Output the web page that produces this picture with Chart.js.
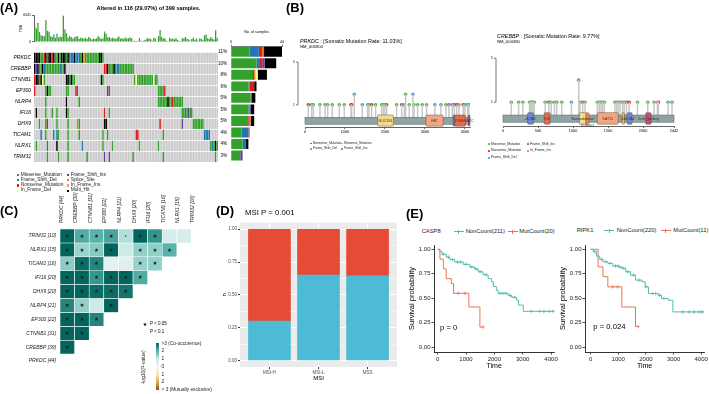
<!DOCTYPE html>
<html>
<head>
<meta charset="utf-8">
<script src="https://cdn.jsdelivr.net/npm/chart.js@4.4.0/dist/chart.umd.min.js"></script>
<style>
  body { margin: 0; background: #fff; }
  #page { position: relative; width: 709px; height: 394px; overflow: hidden; background: #fff;
          font-family: "Liberation Sans", Arial, Helvetica, sans-serif; color: #000; }
  canvas { position: absolute; }
  .t { position: absolute; white-space: nowrap; line-height: 1; }
  .box { position: absolute; }
</style>
</head>
<body>
<div id="page"></div>
<script>
// ---------------- (A) oncoplot data ----------------
const genes = ['PRKDC', 'CREBBP', 'CTNNB1', 'EP300', 'NLRP4', 'IFI16', 'DHX9', 'TICAM1', 'NLRX1', 'TRIM32'];
const genePct = ['11%', '10%', '8%', '6%', '5%', '5%', '5%', '4%', '4%', '3%'];

// one letter per altered sample (116): M missense, F frame-shift del, N nonsense, I frame-shift ins,
// S splice site, Y in-frame del, R in-frame ins, H multi hit, . none
const oncoPRKDC  = 'HHHHMMNHMH HNHMMHMHHH MHFFFHFFFM HSMMMMMMMM MHHM...... .......... .......... .......... .......... .......... .......... ......';
const oncoCREBBP = 'HIHMMHFMMM MMMMMMFMMH .......... .......... ....NNHMMM HMFFMMMMMM MMM....... .......... .......... .......... .......... ......';
const oncoCTNNB1 = 'NHHMHYM... .......... HHMHMM.... .......... ..HM...... .......... ...MYMMMMM MMMMMYMM.. .......... .......... .......... ......';
const oncoEP300  = 'N......MHM M......... MM....NF.. .......... ......NF.. .......... .......... ........MM MMN....... .......... .......... ......';
const oncoNLRP4  = '.......M.. .......... H.......M. .......... .......... .......... .......... ........MM MMMMHMMNMM MMMM...... .......... ......';
const oncoIFI16  = '.H.....M.. .M..M..... HM........ .......... ....N..M.. .......... .......... .......... .......... ...MMFMIMM .......... ......';
const oncoDHX9   = '...M...MN. ....M..... .M.....SM. .......... ....HH.... .......... .......... .........N .......... ...I...... MMMMMMM... ......';
const oncoTICAM1 = '....F..M.. ..F.FM.... .M......M. .......... ...M..M... .......... ....NN.... .......... .M........ .......... .......FFF F.....';
const oncoNLRX1  = '.M......F. ....H..... .M........ F......... ...M.....M .......... ......M... ........M. .......... .......... .......... .MFMHM';
const oncoTRIM32 = '........M. .....M.... .M........ ...M...... ....I..I.. .......... ..M....... .......... .M........ .......... .......... ....M.';

// mutation burden per sample (top bar)
const tmbMissense = [
  3500, 3300, 4300, 2400, 1600, 1500, 1400, 5000, 2700, 2500,
  1400, 1200, 1300, 1000, 1600, 1100, 1300, 1200, 6000, 3000,
  2100, 1000, 900, 1200, 800, 1100, 900, 1300, 700, 1000,
  900, 800, 1000, 700, 1200, 900, 600, 800, 700, 900,
  1300, 800, 700, 900, 2300, 2000, 1100, 900, 800, 1000,
  900, 700, 1000, 1300, 800, 900, 700, 1100, 800, 900,
  700, 900, 200, 300, 250, 200, 900, 300, 200, 400,
  600, 900, 800, 700, 300, 1000, 800, 200, 1400, 2700,
  1200, 800, 900, 300, 200, 1000, 700, 800, 600, 900,
  500, 200, 300, 800, 900, 1200, 400, 600, 300, 700,
  1000, 500, 800, 300, 900, 700, 400, 1100, 1800, 900,
  700, 1200, 800, 600, 2600, 1000];
const tmbNonsenseAt = { 0: 250, 2: 300, 7: 300, 18: 400, 40: 150, 44: 200, 79: 200, 114: 250 };
const tmbFsDelAt = { 12: 500, 14: 400, 22: 500, 26: 400, 41: 300, 47: 300, 60: 400, 96: 300, 107: 500 };
const tmbMax = 6541;

// samples per gene and variant class (right bar)
const sampMissense = [16, 22, 19, 15, 17, 15, 14, 9, 10, 8];
const sampFsDel    = [8, 3, 0, 1, 0, 1, 0, 6, 3, 0];
const sampNonsense = [3, 2, 1, 4, 1, 0, 1, 1, 0, 0];
const sampFsIns    = [0, 2, 0, 0, 0, 1, 1, 0, 0, 2];
const sampSplice   = [1, 0, 1, 0, 0, 0, 1, 0, 0, 0];
const sampIfDel    = [0, 0, 2, 0, 0, 0, 0, 0, 0, 0];
const sampMulti    = [16, 10, 8, 2, 3, 3, 3, 0, 2, 0];
const sampMax = 44;

// ---------------- (B) lollipop data ----------------
const prkdcLen = 4128;
const prkdcPos = [83, 167, 208, 375, 500, 567, 683, 858, 983, 1150, 1167, 1233, 1433, 1567, 1600, 1667, 1767, 1917, 1958, 2000, 2042,
  2292, 2417, 2483, 2517, 2608, 2700, 2725, 2817, 2933, 3042, 3250, 3400, 3525, 3600, 3683, 3733, 3792, 3850, 3958, 4000, 4067, 4100];
const prkdcCount = [1, 1, 1, 1, 1, 1, 1, 1, 1, 1, 1, 2, 1, 1, 1, 1, 1, 1, 1, 1, 1,
  1, 1, 1, 2, 1, 2, 1, 1, 1, 1, 1, 1, 1, 1, 1, 1, 1, 1, 1, 1, 1, 1];
const prkdcType = 'NMMMMMMMMNNFMFMNMMMMN' + 'MIMMMFMMMMFFMIFNNMNMFF';
const prkdcDomName  = ['NUC194', 'FAT', 'DUF', 'PI3Kc', 'FATC'];
const prkdcDomStart = [1815, 3025, 3705, 3745, 4085];
const prkdcDomEnd   = [2210, 3455, 3750, 4015, 4125];

const crebbpLen = 2442;
const crebbpPos = [118, 223, 284, 379, 393, 413, 427, 446, 602, 654, 688, 735, 768, 839, 977, 1081, 1100, 1138, 1171, 1347,
  1375, 1399, 1422, 1446, 1598, 1622, 1645, 1670, 1707, 1731, 1764, 1802, 1920, 2067, 2158, 2205, 2219, 2357, 2414];
const crebbpCount = [1, 1, 1, 1, 1, 1, 1, 1, 1, 1, 1, 1, 1, 1, 1, 3, 1, 1, 1, 1,
  1, 1, 1, 1, 1, 1, 1, 1, 1, 1, 1, 1, 1, 1, 1, 1, 1, 1, 1];
const crebbpType = 'MMMMMMMMMNMMMMFFMNMM' + 'MMMMMMMMMMNNMMMRNMF';
const crebbpDomName  = ['zf-TAZ', 'KIX', 'Bromodomain', 'DUF902', 'KAT11', 'ZZ', 'zf-TAZ ', 'Creb_binding'];
const crebbpDomStart = [351, 588, 1091, 1185, 1347, 1702, 1773, 2039];
const crebbpDomEnd   = [436, 673, 1185, 1228, 1645, 1735, 1844, 2115];

// ---------------- (C) somatic interactions ----------------
const hmCols = ['PRKDC [44]', 'CREBBP [39]', 'CTNNB1 [31]', 'EP300 [22]', 'NLRP4 [21]', 'DHX9 [20]', 'IFI16 [20]', 'TICAM1 [16]', 'NLRX1 [15]', 'TRIM32 [10]'];
const hmRows = ['TRIM32 [10]', 'NLRX1 [15]', 'TICAM1 [16]', 'IFI16 [20]', 'DHX9 [20]', 'NLRP4 [21]', 'EP300 [22]', 'CTNNB1 [31]', 'CREBBP [39]', 'PRKDC [44]'];
// -log10(p) per cell, left to right
const hmTRIM32 = [3.0, 2.1, 2.0, 2.2, 1.2, 3.0, 2.4, 0.7, 0.6];
const hmNLRX1  = [3.0, 1.4, 1.6, 3.0, 0.9, 1.5, 1.5, 2.0];
const hmTICAM1 = [1.55, 2.9, 2.6, 0.4, 0.45, 1.45, 1.5];
const hmIFI16  = [3.0, 3.0, 2.4, 3.0, 3.0, 2.1];
const hmDHX9   = [3.0, 3.0, 2.9, 2.9, 2.8];
const hmNLRP4  = [2.6, 1.5, 0.9, 3.0];
const hmEP300  = [3.0, 3.0, 2.6];
const hmCTNNB1 = [3.0, 3.0];
const hmCREBBP = [3.0];
const hmPRKDC  = [];
const hmVals = [hmTRIM32, hmNLRX1, hmTICAM1, hmIFI16, hmDHX9, hmNLRP4, hmEP300, hmCTNNB1, hmCREBBP, hmPRKDC];

// ---------------- (D) MSI ----------------
const msiGroups = ['MSI-H', 'MSI-L', 'MSS'];
const msiBlue = [0.30, 0.65, 0.645];
const msiRed  = [0.70, 0.35, 0.355];

// ---------------- (E) survival ----------------
const caspNonT = [0, 60, 150, 300, 430, 600, 900, 1130, 1300, 1430, 1600, 1780, 1900, 1960, 2070, 2130, 2480, 2600, 2780, 2850, 3020, 4130];
const caspNonS = [1, 0.98, 0.95, 0.92, 0.895, 0.87, 0.846, 0.82, 0.80, 0.77, 0.74, 0.70, 0.67, 0.62, 0.58, 0.55, 0.53, 0.51, 0.48, 0.43, 0.366, 0.366];
const caspNonCensT = [200, 380, 520, 700, 800, 1000, 1200, 1350, 1500, 1700, 2200, 2300, 2400, 2550, 2700, 3300, 3600, 3750, 3950, 4080];
const caspNonCensS = [0.95, 0.92, 0.895, 0.87, 0.87, 0.846, 0.82, 0.80, 0.77, 0.74, 0.55, 0.55, 0.55, 0.53, 0.51, 0.366, 0.366, 0.366, 0.366, 0.366];
const caspMutT = [0, 80, 200, 300, 480, 560, 1100, 1490, 1600];
const caspMutS = [1, 0.90, 0.80, 0.70, 0.65, 0.55, 0.41, 0.205, 0.205];
const caspMutCensT = [720, 960, 1600];
const caspMutCensS = [0.55, 0.55, 0.205];

const ripkNonT = [0, 94, 212, 329, 447, 623, 800, 1035, 1152, 1270, 1446, 1623, 1858, 1976, 2093, 2446, 2564, 2800, 2975, 4130];
const ripkNonS = [1, 0.976, 0.93, 0.897, 0.873, 0.856, 0.829, 0.815, 0.805, 0.77, 0.736, 0.685, 0.668, 0.616, 0.548, 0.53, 0.497, 0.48, 0.36, 0.36];
const ripkNonCensT = [150, 400, 550, 700, 900, 1000, 1100, 1200, 1350, 1550, 1750, 2000, 2250, 2350, 2500, 2650, 3330, 3560, 3740, 3920, 4030];
const ripkNonCensS = [0.976, 0.897, 0.873, 0.856, 0.829, 0.829, 0.815, 0.805, 0.77, 0.736, 0.685, 0.616, 0.548, 0.548, 0.53, 0.497, 0.36, 0.36, 0.36, 0.36, 0.36];
const ripkMutT = [0, 270, 447, 623, 1130, 1623, 1717];
const ripkMutS = [1, 0.82, 0.72, 0.616, 0.41, 0.21, 0.21];
const ripkMutCensT = [800, 980, 1717];
const ripkMutCensS = [0.616, 0.616, 0.21];

// ---------------- styles ----------------
const vcCol = {
  Missense_Mutation: '#33A02C', Frame_Shift_Del: '#1F78B4', Nonsense_Mutation: '#E31A1C',
  Frame_Shift_Ins: '#6A3D9A', Splice_Site: '#FF7F00', In_Frame_Del: '#FFFF99',
  In_Frame_Ins: '#FB9A99', Multi_Hit: '#000000'
};
const codeOf = { M: 'Missense_Mutation', F: 'Frame_Shift_Del', N: 'Nonsense_Mutation', I: 'Frame_Shift_Ins',
  S: 'Splice_Site', Y: 'In_Frame_Del', R: 'In_Frame_Ins', H: 'Multi_Hit' };
const lolliCol = { M: '#4DB84A', N: '#E8282B', F: '#3FA0DC', I: '#8E57B0', R: '#F0719C' };
const domCol = {
  'NUC194': '#F7D98B', 'FAT': '#F4A582', 'DUF': '#5B7FD8', 'PI3Kc': '#E8694A', 'FATC': '#B8408A',
  'zf-TAZ': '#6787DE', 'KIX': '#E8694A', 'Bromodomain': '#F7D98B', 'DUF902': '#F0904D',
  'KAT11': '#F4A582', 'ZZ': '#F5C242', 'zf-TAZ ': '#6787DE', 'Creb_binding': '#C44B7A'
};
const TEAL = '#52BCAF';
const CORAL = '#EC7357';
const FONT = '"Liberation Sans", Arial, Helvetica, sans-serif';

Chart.defaults.font.family = FONT;
Chart.defaults.color = '#000';
Chart.defaults.animation = false;
Chart.defaults.responsive = false;
Chart.defaults.maintainAspectRatio = false;
Chart.defaults.devicePixelRatio = 1;
Chart.defaults.events = [];
Chart.defaults.plugins.legend.display = false;
Chart.defaults.plugins.tooltip.enabled = false;

const page = document.getElementById('page');

function canvasAt(x, y, w, h) {
  const c = document.createElement('canvas');
  c.width = w; c.height = h;
  c.style.left = x + 'px'; c.style.top = y + 'px';
  page.appendChild(c);
  return c;
}
function txt(s, x, cy, size, opt) {
  opt = opt || {};
  const d = document.createElement('div');
  d.className = 't';
  if (opt.html) d.innerHTML = s; else d.textContent = s;
  d.style.left = x + 'px';
  d.style.top = (cy - size / 2) + 'px';
  d.style.fontSize = size + 'px';
  if (opt.bold) d.style.fontWeight = 'bold';
  if (opt.italic) d.style.fontStyle = 'italic';
  if (opt.color) d.style.color = opt.color;
  if (opt.font) d.style.fontFamily = opt.font;
  if (opt.align === 'center') d.style.transform = 'translateX(-50%)';
  if (opt.align === 'right') d.style.transform = 'translateX(-100%)';
  if (opt.rot) d.style.transform = 'translateX(-50%) rotate(-90deg)';
  page.appendChild(d);
  return d;
}
function box(x, y, w, h, css) {
  const d = document.createElement('div');
  d.className = 'box';
  d.style.left = x + 'px'; d.style.top = y + 'px';
  d.style.width = w + 'px'; d.style.height = h + 'px';
  Object.assign(d.style, css || {});
  page.appendChild(d);
  return d;
}
const fitW = w => s => { s.width = w; };
const fitH = h => s => { s.height = h; };
const setTicks = vals => s => { s.ticks = vals.map(v => ({ value: v })); };

// ================= (A) =================
const rowCodes = [oncoPRKDC, oncoCREBBP, oncoCTNNB1, oncoEP300, oncoNLRP4, oncoIFI16, oncoDHX9, oncoTICAM1, oncoNLRX1, oncoTRIM32]
  .map(s => s.replace(/ /g, '').split(''));
const nSamples = rowCodes[0].length;
const sampleIdx = rowCodes[0].map((_, i) => i);
const sparse = obj => sampleIdx.map(i => obj[i] || 0);

// top: mutation burden
new Chart(canvasAt(0, 12, 218, 33), {
  type: 'bar',
  data: {
    labels: sampleIdx,
    datasets: [
      { data: tmbMissense, backgroundColor: vcCol.Missense_Mutation },
      { data: sparse(tmbFsDelAt), backgroundColor: vcCol.Frame_Shift_Del },
      { data: sparse(tmbNonsenseAt), backgroundColor: vcCol.Nonsense_Mutation }
    ]
  },
  options: {
    layout: { padding: { left: 18, top: 2 } },
    datasets: { bar: { categoryPercentage: 1, barPercentage: 0.8 } },
    scales: {
      x: { display: false, stacked: true },
      y: {
        stacked: true, min: 0, max: tmbMax, afterBuildTicks: setTicks([0, tmbMax]), afterFit: fitW(16),
        ticks: { font: { size: 3.5 }, padding: 1, callback: v => String(v) },
        grid: { drawOnChartArea: false, tickLength: 2, color: '#000', lineWidth: 0.6 },
        border: { color: '#000', width: 0.6 },
        title: { display: true, text: 'TMB', font: { size: 3.5 }, padding: 1 }
      }
    }
  }
});

// oncoprint matrix
const oncoDatasets = genes.map((g, gi) => ({
  label: g,
  data: rowCodes[gi].map(() => 1),
  backgroundColor: rowCodes[gi].map(c => c === '.' ? '#CCCCCC' : vcCol[codeOf[c]]),
  borderColor: '#FFFFFF',
  borderWidth: { top: 1, bottom: 0, left: 0, right: 0 },
  borderSkipped: false
})).reverse();
const rowTicks = genes.map((_, i) => i + 0.5);
new Chart(canvasAt(0, 46, 218, 122), {
  type: 'bar',
  data: { labels: sampleIdx, datasets: oncoDatasets },
  options: {
    datasets: { bar: { categoryPercentage: 1, barPercentage: 1 } },
    scales: {
      x: { display: false, stacked: true },
      y: {
        stacked: true, min: 0, max: genes.length, afterBuildTicks: setTicks(rowTicks), afterFit: fitW(34),
        ticks: { callback: v => genes[genes.length - 1 - Math.floor(v)], font: { size: 5, style: 'italic' }, padding: 3 },
        grid: { display: false, drawTicks: false }, border: { display: false }
      }
    }
  }
});

// right: samples per gene
const sampCounts = [sampMissense, sampFsDel, sampNonsense, sampFsIns, sampSplice, sampIfDel, sampMulti];
const sampClasses = ['Missense_Mutation', 'Frame_Shift_Del', 'Nonsense_Mutation', 'Frame_Shift_Ins', 'Splice_Site', 'In_Frame_Del', 'Multi_Hit'];
new Chart(canvasAt(211, 30, 79, 138), {
  type: 'bar',
  data: {
    labels: genePct,
    datasets: sampClasses.map((v, k) => ({ data: sampCounts[k], backgroundColor: vcCol[v] }))
  },
  options: {
    indexAxis: 'y',
    layout: { padding: { right: 8 } },
    datasets: { bar: { categoryPercentage: 1, barPercentage: 0.86 } },
    scales: {
      x: {
        position: 'top', stacked: true, min: 0, max: sampMax, afterBuildTicks: setTicks([0, sampMax]), afterFit: fitH(16),
        ticks: { font: { size: 3.7 }, padding: 0.5 },
        grid: { drawOnChartArea: false, tickLength: 1.5, color: '#000', lineWidth: 0.5 },
        border: { color: '#000', width: 0.5 },
        title: { display: true, text: 'No. of samples', font: { size: 3.7 }, padding: 0 }
      },
      y: {
        stacked: true, afterFit: fitW(20),
        ticks: { font: { size: 4.5 }, padding: 4 },
        grid: { display: false, drawTicks: false }, border: { display: false }
      }
    }
  }
});

// ================= (B) =================
const protBar = { top: -0.17, bottom: -0.82 };
const protDom = { top: 0.05, bottom: -1.0 };

function proteinPlugin(o) {
  return {
    id: 'protein',
    afterDatasetsDraw(chart) {
      const { ctx, scales: { x, y } } = chart;
      const bt = y.getPixelForValue(protBar.top), bb = y.getPixelForValue(protBar.bottom);
      const x0 = x.getPixelForValue(0), x1 = x.getPixelForValue(o.len);
      ctx.save();
      ctx.fillStyle = '#8EA4A4'; ctx.strokeStyle = '#5B6B6B'; ctx.lineWidth = 0.6;
      ctx.fillRect(x0, bt, x1 - x0, bb - bt);
      ctx.strokeRect(x0, bt, x1 - x0, bb - bt);
      const dt = y.getPixelForValue(protDom.top), db = y.getPixelForValue(protDom.bottom);
      o.domName.forEach((n, i) => {
        const a = x.getPixelForValue(o.domStart[i]), b = x.getPixelForValue(o.domEnd[i]);
        ctx.fillStyle = domCol[n];
        ctx.strokeStyle = 'rgba(90,60,40,0.7)';
        ctx.beginPath(); ctx.roundRect(a, dt, b - a, db - dt, 1); ctx.fill(); ctx.stroke();
      });
      ctx.font = '3.6px ' + FONT;
      ctx.fillStyle = '#333'; ctx.textAlign = 'center'; ctx.textBaseline = 'middle';
      o.domName.forEach((n, i) => {
        if (n === 'DUF') return;
        const c = x.getPixelForValue((o.domStart[i] + o.domEnd[i]) / 2);
        if (n === 'DUF902') ctx.fillText(n, c, db + 2);
        else ctx.fillText(n.trim(), c, (bt + bb) / 2);
      });
      ctx.restore();
    }
  };
}
const bracketPlugin = {
  id: 'bracket',
  afterDraw(chart) {
    const { ctx, chartArea, scales: { y } } = chart;
    const bx = chartArea.left - 7, y1 = y.getPixelForValue(1), y5 = y.getPixelForValue(5);
    ctx.save(); ctx.strokeStyle = '#555'; ctx.lineWidth = 0.8;
    ctx.beginPath(); ctx.moveTo(bx - 2, y5); ctx.lineTo(bx, y5); ctx.lineTo(bx, y1); ctx.lineTo(bx - 2, y1); ctx.stroke();
    ctx.restore();
  }
};

function lollipop(cv, o) {
  const stems = o.pos.map((p, i) => ({ x: p, y: [protBar.top, o.cnt[i]] }));
  const heads = ['M', 'F', 'I', 'R', 'N'].map(t => ({
    type: 'scatter',
    data: o.pos.map((p, i) => o.typ[i] === t ? { x: p, y: o.cnt[i] } : null).filter(Boolean),
    backgroundColor: lolliCol[t], borderColor: lolliCol[t], pointRadius: 1.8, borderWidth: 0
  }));
  return new Chart(cv, {
    type: 'bar',
    data: { datasets: [{ type: 'bar', data: stems, backgroundColor: '#C6C6C6', barThickness: 0.8 }, ...heads] },
    options: {
      layout: { padding: { top: 4, right: o.padR } },
      scales: {
        x: {
          type: 'linear', offset: false, min: 0, max: o.len, afterBuildTicks: setTicks(o.xticks), afterFit: fitH(14),
          ticks: { font: { size: 3.8 }, padding: 1, callback: v => String(v) },
          grid: { offset: false, drawOnChartArea: false, tickLength: 2, color: '#000', lineWidth: 0.6 },
          border: { color: '#000', width: 0.6 }
        },
        y: {
          type: 'linear', min: o.ymin, max: o.ymax, afterBuildTicks: setTicks([1, 5]), afterFit: fitW(o.yw),
          ticks: { font: { size: 4 }, padding: 10, color: '#333' },
          grid: { display: false, drawTicks: false }, border: { display: false }
        }
      }
    },
    plugins: [proteinPlugin(o), bracketPlugin]
  });
}

lollipop(canvasAt(290, 48, 185, 93), {
  pos: prkdcPos, cnt: prkdcCount, typ: prkdcType, len: prkdcLen,
  domName: prkdcDomName, domStart: prkdcDomStart, domEnd: prkdcDomEnd,
  xticks: [0, 1000, 2000, 3000, 4000], ymin: -1.08, ymax: 5.17, yw: 15, padR: 5
});
lollipop(canvasAt(487, 44, 193, 96), {
  pos: crebbpPos, cnt: crebbpCount, typ: crebbpType, len: crebbpLen,
  domName: crebbpDomName, domStart: crebbpDomStart, domEnd: crebbpDomEnd,
  xticks: [0, 500, 1000, 1500, 2000, 2442], ymin: -1.165, ymax: 5.16, yw: 16, padR: 6
});

// ================= (C) =================
function hmColor(v) {
  const stops = [[0, [245, 245, 245]], [1, [199, 234, 229]], [2, [90, 180, 172]], [3, [1, 102, 94]]];
  v = Math.max(0, Math.min(3, v));
  let k = Math.min(2, Math.floor(v));
  const f = v - k, a = stops[k][1], b = stops[k + 1][1];
  return 'rgb(' + a.map((c, i) => Math.round(c + (b[i] - c) * f)).join(',') + ')';
}
const starPlugin = {
  id: 'stars',
  afterDatasetsDraw(chart) {
    const { ctx, scales: { x, y } } = chart;
    ctx.save(); ctx.fillStyle = '#1A1A1A'; ctx.textAlign = 'center'; ctx.textBaseline = 'middle';
    ctx.font = '5.5px "DejaVu Sans"';
    hmVals.forEach((row, i) => row.forEach((v, j) => {
      const cx = x.getPixelForValue(j), cy = y.getPixelForValue(hmRows.length - 0.5 - i);
      if (v >= 1.3) ctx.fillText('\u2605', cx, cy + 0.3);
      else if (v > 1) { ctx.beginPath(); ctx.arc(cx, cy, 0.7, 0, Math.PI * 2); ctx.fill(); }
    }));
    ctx.restore();
  }
};
const nR = hmRows.length;
new Chart(canvasAt(0, 190, 210, 185), {
  type: 'bar',
  data: {
    labels: hmCols,
    datasets: hmRows.map((r, i) => ({
      label: r,
      data: hmCols.map((c, j) => j < hmVals[i].length ? [nR - 1 - i, nR - i] : null),
      backgroundColor: hmCols.map((c, j) => j < hmVals[i].length ? hmColor(hmVals[i][j]) : 'rgba(0,0,0,0)'),
      borderColor: '#FFFFFF', borderWidth: 0.6, borderSkipped: false, grouped: false,
      categoryPercentage: 1, barPercentage: 1
    }))
  },
  options: {
    layout: { padding: { right: 4 } },
    scales: {
      x: {
        position: 'top', afterFit: fitH(39),
        ticks: { autoSkip: false, minRotation: 90, maxRotation: 90, font: { size: 5, style: 'italic' }, padding: 6, color: '#222' },
        grid: { display: false, drawTicks: false }, border: { display: false }
      },
      y: {
        min: 0, max: nR, afterBuildTicks: setTicks(hmRows.map((_, i) => i + 0.5)), afterFit: fitW(60),
        ticks: { callback: v => hmRows[nR - 1 - Math.floor(v)], font: { size: 5, style: 'italic' }, padding: 4, color: '#222' },
        grid: { display: false, drawTicks: false }, border: { display: false }
      }
    }
  },
  plugins: [starPlugin]
});

// ================= (D) =================
const panelBg = {
  id: 'panelBg',
  beforeDraw(chart) {
    const { ctx, chartArea: a } = chart;
    ctx.save(); ctx.fillStyle = '#EBEBEB'; ctx.fillRect(a.left, a.top, a.width, a.height); ctx.restore();
  }
};
const isMajor = v => Math.abs(v * 4 - Math.round(v * 4)) < 1e-6;
new Chart(canvasAt(218, 219, 181, 166), {
  type: 'bar',
  data: {
    datasets: [
      { data: msiBlue.map((v, i) => ({ x: i + 1, y: v })), backgroundColor: '#4DBBD5' },
      { data: msiRed.map((v, i) => ({ x: i + 1, y: v })), backgroundColor: '#E64B35' }
    ]
  },
  options: {
    layout: { padding: { top: 1, right: 2 } },
    datasets: { bar: { barThickness: 42 } },
    scales: {
      x: {
        type: 'linear', offset: false, stacked: true, min: 0.4, max: 3.6, afterBuildTicks: setTicks([1, 2, 3]), afterFit: fitH(18),
        ticks: { callback: v => msiGroups[v - 1], font: { size: 4.5 }, color: '#4D4D4D', padding: 1 },
        grid: { offset: false, color: '#FFFFFF', lineWidth: 1, tickLength: 2, tickColor: '#333' },
        border: { display: false },
        title: { display: true, text: 'MSI', font: { size: 6 }, padding: { top: 1, bottom: 3 } }
      },
      y: {
        stacked: true, min: -0.05, max: 1.05,
        afterBuildTicks: setTicks([0, 0.125, 0.25, 0.375, 0.5, 0.625, 0.75, 0.875, 1]), afterFit: fitW(22),
        ticks: { callback: v => isMajor(v) ? v.toFixed(2) : '', font: { size: 4.5 }, color: '#4D4D4D', padding: 1 },
        grid: {
          color: '#FFFFFF', lineWidth: c => isMajor(c.tick.value) ? 1 : 0.5, tickLength: 2,
          tickColor: c => isMajor(c.tick.value) ? '#333' : 'rgba(0,0,0,0)'
        },
        border: { display: false },
        title: { display: true, text: 'n', font: { size: 6 }, padding: 3 }
      }
    }
  },
  plugins: [panelBg]
});

// ================= (E) =================
function km(cv, o) {
  const pts = (t, s) => t.map((v, i) => ({ x: v, y: s[i] }));
  return new Chart(cv, {
    type: 'line',
    data: {
      datasets: [
        { data: pts(o.nonT, o.nonS), borderColor: TEAL, borderWidth: 1, pointRadius: 0, stepped: true, fill: false },
        { data: pts(o.mutT, o.mutS), borderColor: CORAL, borderWidth: 1, pointRadius: 0, stepped: true, fill: false },
        { data: pts(o.nonCT, o.nonCS), showLine: false, pointStyle: 'cross', pointRadius: 1.8, borderColor: TEAL, borderWidth: 0.7 },
        { data: pts(o.mutCT, o.mutCS), showLine: false, pointStyle: 'cross', pointRadius: 1.8, borderColor: CORAL, borderWidth: 0.7 }
      ]
    },
    options: {
      layout: { padding: { top: 5, right: o.padR } },
      scales: {
        x: {
          type: 'linear', min: o.xmin, max: o.xmax, afterBuildTicks: setTicks([0, 1000, 2000, 3000, 4000]), afterFit: fitH(20),
          ticks: { font: { size: 6 }, padding: 1, color: '#222', callback: v => String(v) },
          grid: { drawOnChartArea: false, tickLength: 2.5, color: '#000', lineWidth: 0.7 },
          border: { color: '#000', width: 0.8 },
          title: { display: true, text: 'Time', font: { size: 7 }, padding: { top: 0, bottom: 2 } }
        },
        y: {
          type: 'linear', min: -0.05, max: 1.044, afterBuildTicks: setTicks([0, 0.25, 0.5, 0.75, 1]), afterFit: fitW(29),
          ticks: { font: { size: 6 }, padding: 1, color: '#222', callback: v => v.toFixed(2) },
          grid: { drawOnChartArea: false, tickLength: 2.5, color: '#000', lineWidth: 0.7 },
          border: { color: '#000', width: 0.8 },
          title: { display: true, text: 'Survival probability', font: { size: 7.5 }, padding: 2 }
        }
      }
    }
  });
}
km(canvasAt(405, 240, 154, 132), {
  nonT: caspNonT, nonS: caspNonS, mutT: caspMutT, mutS: caspMutS,
  nonCT: caspNonCensT, nonCS: caspNonCensS, mutCT: caspMutCensT, mutCS: caspMutCensS,
  xmin: -130, xmax: 4115, padR: 4
});
km(canvasAt(556, 240, 153, 132), {
  nonT: ripkNonT, nonS: ripkNonS, mutT: ripkMutT, mutS: ripkMutS,
  nonCT: ripkNonCensT, nonCS: ripkNonCensS, mutCT: ripkMutCensT, mutCS: ripkMutCensS,
  xmin: -203, xmax: 4107, padR: 3
});

// ================= texts & legends =================
txt('(A)', 0, 7, 13, { bold: true });
txt('(B)', 286, 7, 13, { bold: true });
txt('(C)', 0, 210, 13, { bold: true });
txt('(D)', 216, 210, 13, { bold: true });
txt('(E)', 406, 213, 13, { bold: true });

txt('Altered in 116 (29.07%) of 399 samples.', 148.5, 9, 5.6, { bold: true, align: 'center' });

function key(x, cy, col, label, size, round) {
  const d = size * 0.5;
  box(x - d / 2, cy - d / 2, d, d, { background: col, borderRadius: round ? '50%' : '0' });
  txt(label, x + d / 2 + 1.2, cy, size, { color: '#222' });
}
// (A) legend
[['Missense_Mutation', 'Frame_Shift_Ins'], ['Frame_Shift_Del', 'Splice_Site'],
 ['Nonsense_Mutation', 'In_Frame_Ins'], ['In_Frame_Del', 'Multi_Hit']].forEach((pair, r) => {
  const cy = 175 + r * 5.25;
  key(18.3, cy, vcCol[pair[0]], pair[0], 4.8);
  key(68.3, cy, vcCol[pair[1]], pair[1], 4.8);
});

// (B) titles & legends
txt('<i>PRKDC</i> : [Somatic Mutation Rate: 11.03%]', 300, 41.5, 5.4, { html: true });
txt('NM_006904', 300, 46.7, 4.2);
txt('<i>CREBBP</i> : [Somatic Mutation Rate: 9.77%]', 497, 36.8, 5.4, { html: true });
txt('NM_004380', 497, 42.3, 4.2);
key(311, 143.3, lolliCol.N, 'Nonsense_Mutation', 3.2, true);
key(342, 143.3, lolliCol.M, 'Missense_Mutation', 3.2, true);
key(311, 148.8, lolliCol.F, 'Frame_Shift_Del', 3.2, true);
key(342, 148.8, lolliCol.I, 'Frame_Shift_Ins', 3.2, true);
key(489, 144.3, lolliCol.M, 'Missense_Mutation', 3.4, true);
key(528, 144.3, lolliCol.I, 'Frame_Shift_Ins', 3.4, true);
key(489, 151, lolliCol.N, 'Nonsense_Mutation', 3.4, true);
key(528, 151, lolliCol.R, 'In_Frame_Ins', 3.4, true);
key(489, 157.7, lolliCol.F, 'Frame_Shift_Del', 3.4, true);

// (C) legend
txt('\u2605', 145, 324, 5, { font: '"DejaVu Sans"', align: 'center' });
txt('P < 0.05', 150, 324, 4.5);
txt('P < 0.1', 150, 332, 4.5);
box(155.5, 343, 3.6, 47, { background: 'linear-gradient(#01665E, #5AB4AC 18%, #C7EAE5 34%, #F5F5F5 50%, #F6E8C3 66%, #D8B365 82%, #8C510A)' });
[['>3 (Co-occurence)', 344], ['2', 351.7], ['1', 359.5], ['0', 367], ['1', 375], ['2', 382.5], ['> 3 (Mutually exclusive)', 390]]
  .forEach(p => txt(p[0], 161.5, p[1], 4.8, { color: '#222' }));
txt('-log10(P-value)', 142.5, 367, 5, { rot: true, color: '#222' });

// (D) title
txt('MSI P = 0.001', 245, 213, 7.8);

// (E) legends and p values
function kmKey(x, cy, col) {
  box(x, cy - 0.5, 10, 0, { borderTop: '1px solid ' + col });
  box(x + 4.5, cy - 2, 0, 4, { borderLeft: '1px solid ' + col });
}
txt('CASP8', 421.7, 231.7, 5.8, { color: '#222' });
kmKey(453.5, 231.7, TEAL);
txt('NonCount(211)', 465.7, 231.7, 5.8, { color: '#222' });
kmKey(507.5, 231.7, CORAL);
txt('MutCount(20)', 519.3, 231.7, 5.8, { color: '#222' });
txt('RIPK1', 576.7, 230.7, 5.8, { color: '#222' });
kmKey(604, 230.7, TEAL);
txt('NonCount(220)', 616.7, 230.7, 5.8, { color: '#222' });
kmKey(660.5, 230.7, CORAL);
txt('MutCount(11)', 673.3, 230.7, 5.8, { color: '#222' });
txt('p = 0', 440, 327.7, 7.7);
txt('p = 0.024', 593.3, 326.7, 7.7);
</script>
</body>
</html>
